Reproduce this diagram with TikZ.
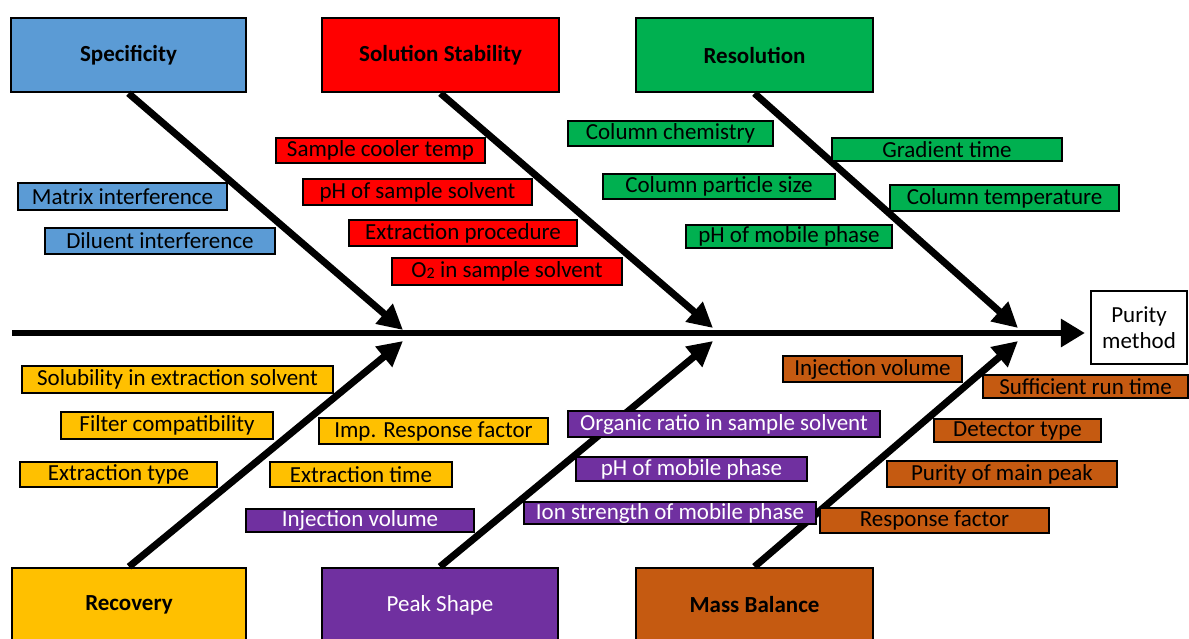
\documentclass[tikz,border=0pt]{standalone}
\usepackage{fontspec}
\setmainfont{Carlito}
\usetikzlibrary{arrows.meta}
\definecolor{cblue}{HTML}{5B9BD5}
\definecolor{cred}{HTML}{FF0000}
\definecolor{cgreen}{HTML}{00B050}
\definecolor{cyellow}{HTML}{FFC000}
\definecolor{cpurple}{HTML}{7030A0}
\definecolor{corange}{HTML}{C55A11}
\tikzset{
  catbox/.style={draw=black, line width=2.6pt, inner sep=0pt, font=\fontsize{23}{26}\selectfont\bfseries},
  labbox/.style={draw=black, line width=1.8pt, inner sep=0pt, font=\fontsize{23}{26}\selectfont},
  bone/.style={line width=7pt, -{Triangle[length=25pt,width=25pt]}},
  spine/.style={line width=6.5pt, -{Triangle[length=24pt,width=27pt]}},
}
\begin{document}
\begin{tikzpicture}[x=1pt,y=-1pt]
\clip (0,0) rectangle (1189,638);
\fill[white] (0,0) rectangle (1189,638);
% category boxes
\node[catbox, fill=cblue, minimum width=235pt, minimum height=74pt] (spec) at (128.5,55) {Specificity};
\node[catbox, fill=cred, minimum width=237pt, minimum height=74pt] (stab) at (440.5,55) {Solution Stability};
\node[catbox, fill=cgreen, minimum width=237pt, minimum height=74pt] (reso) at (754.5,55) {Resolution};
\node[catbox, fill=cyellow, minimum width=234pt, minimum height=74pt] (reco) at (129,605) {Recovery};
\node[catbox, fill=cpurple, text=white, font=\fontsize{23}{26}\selectfont, minimum width=236pt, minimum height=74pt] (peak) at (440,605) {Peak Shape};
\node[catbox, fill=corange, minimum width=237pt, minimum height=74pt] (mass) at (754.5,605) {Mass Balance};
\node[catbox, fill=white, font=\fontsize{23}{26}\selectfont, align=center, minimum width=96pt, minimum height=73pt, line width=2.2pt] (pur) at (1139,327.5) {Purity\\method};
% spine and bones
\coordinate (s0) at (12,333);
\coordinate (t1) at (403,330);
\coordinate (t2) at (713,328);
\coordinate (t3) at (1018,328);
\coordinate (b1) at (403,341);
\coordinate (b2) at (713,341);
\coordinate (b3) at (1018,341);
\draw[spine, shorten >=5pt] (s0) -- (s0 -| pur.west);
\draw[bone] (spec.south) -- (t1);
\draw[bone] (stab.south) -- (t2);
\draw[bone] (reso.south) -- (t3);
\draw[bone] (reco.north) -- (b1);
\draw[bone] (peak.north) -- (b2);
\draw[bone] (mass.north) -- (b3);
% blue labels
\node[labbox, fill=cblue, minimum width=209pt, minimum height=27pt] (l1) at (122.5,196.5) {Matrix interference};
\node[labbox, fill=cblue, minimum width=230pt, minimum height=26pt] (l2) at (160,241) {Diluent interference};
% red labels
\node[labbox, fill=cred, minimum width=209pt, minimum height=25pt] (l3) at (380.5,150.5) {Sample cooler temp};
\node[labbox, fill=cred, minimum width=229pt, minimum height=26pt] (l4) at (417.5,192) {pH of sample solvent};
\node[labbox, fill=cred, minimum width=228pt, minimum height=26pt] (l5) at (463,233) {Extraction procedure};
\node[labbox, fill=cred, minimum width=230pt, minimum height=27pt] (l6) at (507,271.5) {O\raisebox{-1pt}{\fontsize{16}{16}\selectfont 2} in sample solvent};
% green labels
\node[labbox, fill=cgreen, minimum width=205pt, minimum height=25pt] (l7) at (670.5,133.5) {Column chemistry};
\node[labbox, fill=cgreen, minimum width=232pt, minimum height=25pt] (l8) at (719,186.5) {Column particle size};
\node[labbox, fill=cgreen, minimum width=206pt, minimum height=23pt] (l9) at (789,236.5) {pH of mobile phase};
\node[labbox, fill=cgreen, minimum width=230pt, minimum height=23pt] (l10) at (947,149.5) {Gradient time};
\node[labbox, fill=cgreen, minimum width=229pt, minimum height=26pt] (l11) at (1004.5,198) {Column temperature};
% yellow labels
\node[labbox, fill=cyellow, minimum width=311pt, minimum height=27pt] (l12) at (177.5,379.5) {Solubility in extraction solvent};
\node[labbox, fill=cyellow, minimum width=212pt, minimum height=27pt] (l13) at (167,425.5) {Filter compatibility};
\node[labbox, fill=cyellow, minimum width=197pt, minimum height=25pt] (l14) at (118.5,474.5) {Extraction type};
\node[labbox, fill=cyellow, minimum width=229pt, minimum height=26pt] (l15) at (433.5,431) {Imp. Response factor};
\node[labbox, fill=cyellow, minimum width=182pt, minimum height=25pt] (l16) at (361,474.5) {Extraction time};
% purple labels
\node[labbox, fill=cpurple, text=white, minimum width=228pt, minimum height=23pt] (l17) at (360,520.5) {Injection volume};
\node[labbox, fill=cpurple, text=white, minimum width=312pt, minimum height=26pt] (l18) at (724,424) {Organic ratio in sample solvent};
\node[labbox, fill=cpurple, text=white, minimum width=231pt, minimum height=24pt] (l19) at (691.5,469) {pH of mobile phase};
\node[labbox, fill=cpurple, text=white, minimum width=292pt, minimum height=22pt] (l20) at (670,513) {Ion strength of mobile phase};
% orange labels
\node[labbox, fill=corange, minimum width=179pt, minimum height=26pt] (l21) at (872.5,369) {Injection volume};
\node[labbox, fill=corange, minimum width=205pt, minimum height=23pt] (l22) at (1085.5,386.5) {Sufficient run time};
\node[labbox, fill=corange, minimum width=167pt, minimum height=23pt] (l23) at (1017.5,430.5) {Detector type};
\node[labbox, fill=corange, minimum width=230pt, minimum height=26pt] (l24) at (1002,474) {Purity of main peak};
\node[labbox, fill=corange, minimum width=229pt, minimum height=25pt] (l25) at (934.5,520.5) {Response factor};
\end{tikzpicture}
\end{document}
